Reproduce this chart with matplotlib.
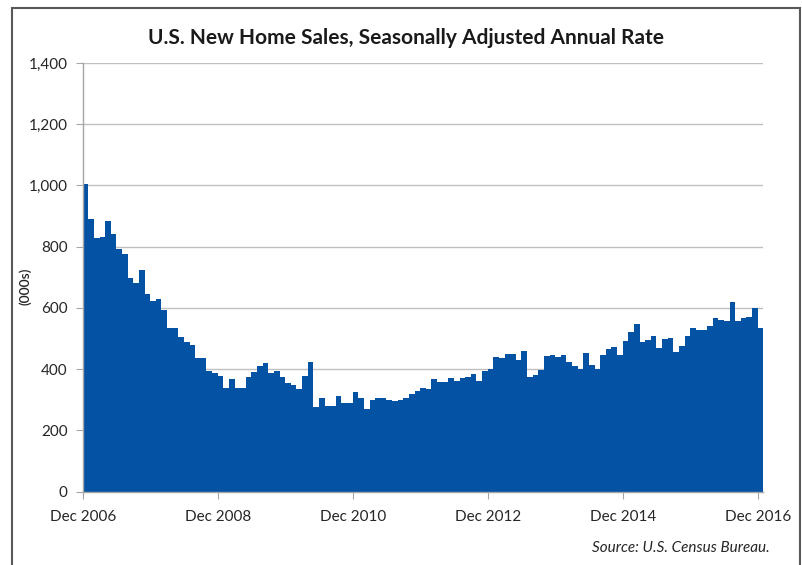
import numpy as np
import matplotlib
matplotlib.use('Agg')
import matplotlib.pyplot as plt
from matplotlib.patches import Rectangle

# monthly new home sales, SAAR (000s), Dec 2006 .. Dec 2016
sales = [
    1004, 890, 827, 831, 885, 841, 793, 777, 698, 683, 725, 644,   # Dec06-Nov07
    623, 628, 594, 536, 536, 504, 488, 479, 435, 435, 393, 389,    # Dec07-Nov08
    378, 338, 369, 340, 338, 376, 391, 410, 420, 387, 395, 374,    # Dec08-Nov09
    354, 347, 337, 379, 423, 278, 305, 280, 280, 314, 291, 289,    # Dec09-Nov10
    324, 305, 269, 300, 307, 305, 300, 296, 300, 305, 318, 329,    # Dec10-Nov11
    339, 335, 368, 357, 357, 371, 363, 371, 374, 385, 360, 395,    # Dec11-Nov12
    400, 439, 435, 449, 449, 430, 460, 376, 381, 398, 443, 446,    # Dec12-Nov13
    441, 446, 422, 411, 401, 454, 413, 402, 448, 465, 473, 446,    # Dec13-Nov14
    491, 522, 549, 489, 497, 508, 470, 498, 502, 457, 475, 508,    # Dec14-Nov15
    536, 527, 527, 540, 567, 562, 557, 620, 558, 567, 571, 600,    # Dec15-Nov16
    535,                                                           # Dec16
]
tick_pos = [0, 24, 48, 72, 96, 120]
tick_labels = ['Dec 2006', 'Dec 2008', 'Dec 2010', 'Dec 2012', 'Dec 2014', 'Dec 2016']
y_ticks = [0, 200, 400, 600, 800, 1000, 1200, 1400]

font = 'Lato'
blue = '#0352A3'
grid = '#BFBFBF'

fig = plt.figure(figsize=(8.03, 5.65), dpi=100)
ax = fig.add_axes([82.7/803, 1-491.7/565, (763.3-82.7)/803, (491.7-63)/565])

x = np.arange(len(sales))
ax.bar(x, sales, width=1.0, align='edge', color=blue, linewidth=0, zorder=2)

ax.set_xlim(0, len(sales))
ax.set_ylim(0, 1400)
ax.set_yticks(y_ticks)
ax.set_yticklabels(['{:,}'.format(v) for v in y_ticks], fontfamily=font, fontsize=11, color='#262626')
ax.set_xticks(tick_pos)
ax.set_xticklabels(tick_labels, fontfamily=font, fontsize=11, color='#262626')
ax.yaxis.grid(True, color=grid, linewidth=1, zorder=0)
ax.set_axisbelow(True)
for s in ['top', 'right']:
    ax.spines[s].set_visible(False)
for s in ['left', 'bottom']:
    ax.spines[s].set_color('#A6A6A6')
    ax.spines[s].set_linewidth(1)
ax.tick_params(axis='y', length=5, color='#A6A6A6', pad=6)
ax.tick_params(axis='x', length=5, color='#A6A6A6', pad=8)

ax.set_ylabel('(000s)', fontfamily=font, fontsize=10, fontweight='semibold', color='#262626')
ax.yaxis.set_label_coords(-0.075, 0.48)

fig.text(406/803, 1-38/565, 'U.S. New Home Sales, Seasonally Adjusted Annual Rate',
         ha='center', va='center', fontfamily=font, fontweight='bold', fontsize=15, color='#1a1a1a')
fig.text(770/803, 1-548/565, 'Source: U.S. Census Bureau.', ha='right', va='center',
         fontfamily=font, fontstyle='italic', fontsize=11, color='#262626')

# chart frame
fig.patches.append(Rectangle((12/803, -0.05), (800-12)/803, 1.05-8/565, transform=fig.transFigure,
                             fill=False, edgecolor='#595959', linewidth=1.5))

fig.savefig('out.png', dpi=100)
